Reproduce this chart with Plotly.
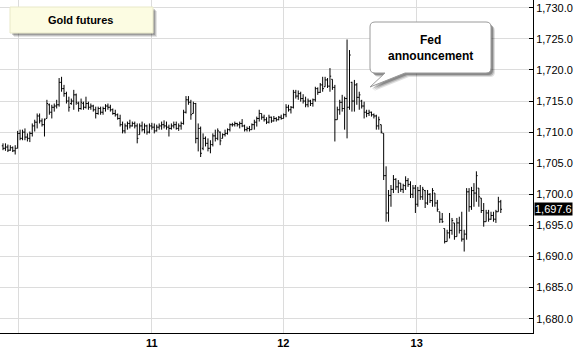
import plotly.graph_objects as go

# ---------------- data ----------------
opens = [
 1707.8,1707.4,1707.6,1707.1,1707.5,1707.0,1707.4,1709.8,1709.0,1710.0,
 1709.2,1709.0,1709.8,1711.0,1711.6,1712.6,1711.8,1711.2,1712.2,1714.4,
 1713.2,1714.0,1714.2,1714.4,1718.0,1717.0,1716.2,1715.0,1714.6,1715.0,
 1716.0,1714.6,1713.8,1714.6,1714.0,1714.6,1714.0,1714.2,1713.6,1713.0,
 1713.8,1713.2,1713.8,1714.2,1714.0,1713.6,1713.0,1712.8,1712.2,1711.2,
 1710.2,1711.0,1711.4,1711.0,1711.4,1711.0,1709.6,1711.0,1710.4,1711.0,
 1710.0,1711.0,1710.8,1710.2,1710.8,1711.0,1711.2,1711.0,1710.8,1710.6,
 1711.0,1711.2,1710.6,1711.0,1711.4,1713.2,1715.2,1714.8,1713.0,1714.6,
 1709.0,1710.6,1707.4,1709.0,1708.2,1707.4,1708.0,1709.4,1709.0,1710.0,
 1709.0,1709.6,1709.8,1710.4,1711.2,1711.2,1711.4,1711.2,1711.4,1711.0,
 1710.4,1710.6,1710.4,1711.2,1711.6,1712.2,1713.0,1712.4,1712.0,1711.6,
 1712.4,1711.8,1712.2,1712.0,1712.4,1712.2,1712.8,1714.0,1713.6,1714.0,
 1716.4,1715.8,1716.2,1715.4,1715.0,1714.4,1715.0,1714.6,1715.2,1717.0,
 1716.4,1717.6,1717.3,1718.4,1717.4,1718.5,1717.2,1712.0,1713.6,1714.8,
 1713.8,1715.4,1714.0,1718.0,1715.0,1717.6,1715.6,1715.0,1714.2,1713.2,
 1713.0,1713.2,1712.8,1712.6,1711.0,1711.2,1709.8,1703.0,1697.0,1699.8,
 1700.8,1702.4,1701.2,1701.8,1700.8,1701.4,1702.2,1701.6,1700.0,1701.0,
 1698.4,1700.6,1699.6,1700.6,1698.6,1700.0,1699.0,1700.2,1698.6,1697.2,
 1696.0,1694.5,1692.4,1693.8,1694.2,1695.4,1693.2,1695.4,1694.2,1692.8,
 1693.6,1700.4,1698.0,1700.6,1700.2,1701.0,1699.4,1697.4,1695.6,1697.0,
 1696.0,1696.6,1696.0,1697.2,1698.8]
highs = [
 1708.2,1708.2,1708.0,1707.9,1707.7,1707.9,1710.2,1710.4,1710.4,1710.6,
 1709.8,1710.1,1711.4,1712.0,1713.0,1713.0,1712.2,1712.2,1715.2,1714.6,
 1714.4,1714.6,1715.2,1718.7,1718.9,1717.6,1716.5,1715.7,1715.4,1716.8,
 1716.2,1714.9,1715.4,1714.9,1715.7,1714.9,1714.6,1714.4,1714.1,1714.1,
 1714.1,1714.1,1714.5,1714.6,1714.4,1713.8,1713.6,1713.0,1712.8,1711.7,
 1711.4,1711.7,1712.0,1711.7,1711.7,1711.4,1711.4,1711.7,1711.4,1711.2,
 1711.4,1711.5,1711.4,1711.2,1711.4,1711.7,1711.9,1711.7,1711.2,1711.4,
 1711.7,1711.7,1711.4,1711.7,1713.6,1715.8,1715.8,1715.2,1714.9,1714.7,
 1711.4,1710.9,1709.8,1709.3,1709.0,1708.7,1709.8,1710.4,1710.6,1710.1,
 1709.8,1710.4,1710.6,1711.4,1711.5,1711.7,1711.5,1711.7,1712.1,1711.2,
 1710.9,1711.0,1711.4,1712.0,1712.5,1713.6,1713.0,1712.8,1712.4,1712.8,
 1712.5,1712.6,1712.4,1712.6,1712.8,1713.0,1714.5,1714.4,1714.2,1716.8,
 1716.8,1716.7,1716.5,1716.1,1715.7,1715.4,1715.2,1715.4,1717.3,1717.2,
 1717.9,1718.9,1718.9,1718.7,1720.3,1718.5,1717.6,1714.1,1715.2,1716.0,
 1715.7,1724.9,1723.2,1718.1,1718.4,1717.9,1716.5,1715.2,1714.9,1713.6,
 1713.6,1713.3,1713.0,1712.8,1712.5,1711.2,1709.8,1704.5,1700.7,1701.5,
 1703.1,1702.6,1702.3,1701.8,1701.7,1702.9,1702.6,1702.1,1701.5,1701.5,
 1701.2,1701.5,1701.2,1700.7,1700.7,1700.2,1701.0,1700.2,1699.1,1697.2,
 1697.0,1694.5,1694.3,1697.0,1696.2,1695.4,1696.2,1696.4,1697.2,1694.3,
 1701.0,1701.0,1701.2,1701.8,1703.7,1701.0,1699.4,1698.6,1697.5,1697.5,
 1697.2,1697.2,1697.5,1699.6,1699.1]
lows = [
 1707.1,1707.0,1706.8,1707.0,1706.8,1706.4,1707.4,1708.7,1708.7,1708.7,
 1708.5,1708.4,1709.3,1710.1,1710.6,1711.4,1710.9,1709.3,1712.2,1712.8,
 1712.2,1713.3,1713.8,1714.1,1716.5,1715.7,1714.6,1713.3,1714.4,1713.6,
 1714.4,1713.3,1713.6,1713.6,1713.8,1713.6,1713.6,1713.3,1712.2,1712.8,
 1712.8,1712.8,1713.3,1713.6,1713.3,1712.8,1712.5,1712.0,1710.9,1709.8,
 1709.8,1710.4,1710.6,1710.9,1710.6,1708.2,1709.6,1710.1,1709.8,1709.6,
 1709.8,1710.4,1709.8,1710.1,1710.4,1710.4,1710.6,1710.4,1709.3,1710.4,
 1710.6,1710.4,1710.2,1710.4,1711.2,1713.0,1714.4,1712.0,1713.0,1708.2,
 1706.9,1706.0,1707.1,1707.7,1706.9,1706.6,1707.7,1708.5,1708.7,1707.9,
 1709.0,1709.3,1709.6,1710.1,1710.9,1710.9,1710.9,1710.6,1710.8,1710.1,
 1710.1,1710.1,1710.4,1710.4,1710.9,1711.7,1712.0,1711.7,1711.3,1711.4,
 1711.5,1711.7,1711.7,1711.9,1712.0,1712.2,1712.4,1713.3,1713.0,1713.8,
 1715.4,1715.2,1714.9,1714.6,1714.0,1714.0,1714.2,1714.1,1714.9,1716.0,
 1716.3,1716.5,1717.3,1717.1,1716.5,1716.8,1708.5,1712.0,1712.8,1713.3,
 1710.4,1709.0,1713.6,1713.3,1713.3,1714.4,1713.6,1713.8,1712.2,1712.4,
 1712.6,1712.5,1712.2,1710.4,1710.4,1709.8,1702.3,1695.6,1695.6,1698.0,
 1700.2,1700.7,1700.2,1700.4,1700.2,1700.7,1701.2,1699.4,1699.4,1697.0,
 1698.0,1699.1,1699.1,1697.8,1698.3,1698.6,1698.0,1698.0,1697.2,1695.4,
 1695.4,1692.1,1692.4,1692.9,1693.5,1692.7,1693.2,1693.7,1692.4,1690.8,
 1692.7,1697.2,1697.5,1698.0,1698.8,1698.0,1697.0,1694.8,1695.6,1695.6,
 1695.9,1695.6,1695.4,1697.2,1697.0]
closes = [
 1707.4,1707.6,1707.1,1707.5,1707.0,1707.4,1709.8,1709.0,1710.0,1709.2,
 1709.0,1709.8,1711.0,1711.6,1712.6,1711.8,1711.2,1712.0,1714.6,1713.2,
 1714.0,1714.2,1714.4,1718.0,1717.0,1716.2,1715.0,1714.0,1715.0,1716.0,
 1714.8,1713.8,1714.8,1714.0,1714.6,1714.0,1714.2,1713.6,1713.0,1713.8,
 1713.2,1713.8,1714.2,1714.0,1713.6,1713.0,1712.8,1712.2,1711.2,1710.2,
 1711.0,1711.4,1711.0,1711.4,1711.0,1709.0,1711.0,1710.4,1711.0,1710.0,
 1711.0,1710.8,1710.2,1710.8,1711.0,1711.2,1711.0,1710.8,1710.6,1711.0,
 1711.2,1710.6,1711.0,1711.4,1713.2,1715.2,1714.8,1712.8,1714.6,1709.0,
 1710.6,1706.6,1709.0,1708.2,1707.4,1708.0,1709.4,1709.0,1710.2,1708.6,
 1709.6,1709.8,1710.4,1711.2,1711.2,1711.4,1711.2,1711.4,1711.0,1710.4,
 1710.6,1710.4,1711.2,1711.6,1712.2,1713.0,1712.4,1712.0,1711.6,1712.4,
 1711.8,1712.2,1712.0,1712.4,1712.2,1712.8,1714.0,1713.6,1714.0,1716.4,
 1715.8,1716.2,1715.4,1715.0,1714.4,1715.0,1714.6,1715.2,1717.0,1716.4,
 1717.6,1717.0,1718.4,1717.4,1719.0,1717.2,1712.0,1713.6,1714.8,1713.8,
 1715.4,1714.0,1722.4,1715.0,1717.6,1715.6,1716.0,1714.2,1713.2,1713.0,
 1713.2,1712.8,1712.6,1711.0,1712.0,1710.0,1703.0,1697.0,1699.8,1700.8,
 1702.4,1701.2,1701.8,1700.8,1701.4,1702.2,1701.6,1700.0,1701.0,1698.4,
 1700.6,1699.6,1700.8,1698.6,1700.0,1699.0,1700.6,1698.6,1697.6,1696.0,
 1695.6,1692.4,1693.8,1694.2,1695.8,1693.2,1695.4,1694.2,1692.8,1693.6,
 1700.4,1698.0,1700.6,1700.2,1703.0,1699.6,1697.4,1695.6,1697.0,1696.0,
 1696.6,1696.0,1697.2,1698.8,1697.6]

day_labels = ["", "11", "12", "13"]
day_positions = [6.27, 60.94, 114.88, 169.55]   # bar-index position of each day boundary
price_ticks = [1680, 1685, 1690, 1695, 1700, 1705, 1710, 1715, 1720, 1725, 1730]
last_price = closes[-1]
title_text = "Gold futures"
callout_text = "Fed<br>announcement"

bar_index = list(range(len(closes)))

# ---------------- figure ----------------
W, H = 575, 351
ML, MR, MT, MB = 0, 42, 0, 18
PW, PH = W - ML - MR, H - MT - MB

def px(x):   # plot-area pixel -> paper x
    return x / PW

def py(y):   # plot-area pixel -> paper y
    return 1 - y / PH

fig = go.Figure(go.Ohlc(
    x=bar_index, open=opens, high=highs, low=lows, close=closes,
    increasing=dict(line=dict(color="black", width=1)),
    decreasing=dict(line=dict(color="black", width=1)),
    tickwidth=0.5, hoverinfo="skip", showlegend=False,
))

font = "Liberation Sans, Arial, sans-serif"

def rounded_rect(x0, y0, x1, y1, r, tail=None):
    # path in paper coords; y in pixels downward, converted
    pts = []
    s = f"M {px(x0+r)},{py(y0)} L {px(x1-r)},{py(y0)} Q {px(x1)},{py(y0)} {px(x1)},{py(y0+r)} "
    s += f"L {px(x1)},{py(y1-r)} Q {px(x1)},{py(y1)} {px(x1-r)},{py(y1)} "
    if tail:
        (ta, tb, tx, ty) = tail
        s += f"L {px(tb)},{py(y1)} L {px(tx)},{py(ty)} L {px(ta)},{py(y1)} "
    s += f"L {px(x0+r)},{py(y1)} Q {px(x0)},{py(y1)} {px(x0)},{py(y1-r)} "
    s += f"L {px(x0)},{py(y0+r)} Q {px(x0)},{py(y0)} {px(x0+r)},{py(y0)} Z"
    return s

shapes = []
# Gold futures box: shadow + box
for off, col in [(4, "rgba(0,0,0,0.10)"), (3, "rgba(0,0,0,0.15)"), (2, "rgba(0,0,0,0.2)")]:
    shapes.append(dict(type="rect", xref="paper", yref="paper",
                       x0=px(10 + off), x1=px(153 + off), y0=py(7 + off), y1=py(33 + off),
                       line=dict(width=0), fillcolor=col, layer="above"))
shapes.append(dict(type="rect", xref="paper", yref="paper",
                   x0=px(10), x1=px(153), y0=py(7), y1=py(33),
                   line=dict(width=1, color="#e8e8c8"), fillcolor="#fcfce2", layer="above"))

# Fed callout: shadow + box with tail
for off, col in [(4, "rgba(0,0,0,0.12)"), (3, "rgba(0,0,0,0.18)"), (2, "rgba(0,0,0,0.25)")]:
    shapes.append(dict(type="path", xref="paper", yref="paper",
                       path=rounded_rect(370 + off, 22 + off, 491 + off, 73 + off, 5,
                                         tail=(385 + off, 405 + off, 370 + off, 87 + off)),
                       line=dict(width=0), fillcolor=col, layer="above"))
shapes.append(dict(type="path", xref="paper", yref="paper",
                   path=rounded_rect(370, 22, 491, 73, 5, tail=(385, 405, 370, 87)),
                   line=dict(width=1, color="#9a9a9a"), fillcolor="#ffffff", layer="above"))

annotations = [
    dict(xref="paper", yref="paper", x=px(80), y=py(20), text=f"<b>{title_text}</b>",
         showarrow=False, font=dict(family=font, size=11, color="black"),
         xanchor="center", yanchor="middle"),
    dict(xref="paper", yref="paper", x=px(430), y=py(48), text=f"<b>{callout_text}</b>",
         showarrow=False, font=dict(family=font, size=12, color="black"),
         xanchor="center", yanchor="middle", align="center"),
    dict(xref="paper", yref="y", x=1, y=last_price, xshift=1,
         text=f"{last_price:,.1f}", showarrow=False,
         font=dict(family=font, size=11, color="white"),
         bgcolor="black", borderpad=0, xanchor="left", yanchor="middle"),
]

fig.update_layout(
    width=W, height=H,
    margin=dict(l=ML, r=MR, t=MT, b=MB, pad=0),
    paper_bgcolor="white", plot_bgcolor="white",
    shapes=shapes, annotations=annotations,
    font=dict(family=font, size=11, color="black"),
    xaxis=dict(
        range=[-1.23, 217.2], rangeslider=dict(visible=False),
        tickmode="array", tickvals=day_positions, ticktext=[f"<b>{t}</b>" if t else "" for t in day_labels],
        showgrid=True, gridcolor="#dcdcdc", gridwidth=1, zeroline=False,
        showline=True, linecolor="black", linewidth=1, ticks="",
        tickfont=dict(family=font, size=11, color="black"), fixedrange=True,
    ),
    yaxis=dict(
        side="right", range=[1677.7, 1731.25],
        tickmode="array", tickvals=price_ticks, tickformat=",.1f",
        showgrid=True, gridcolor="#dcdcdc", gridwidth=1, zeroline=False,
        showline=True, linecolor="black", linewidth=1,
        ticks="inside", ticklen=4, tickcolor="black",
        tickfont=dict(family=font, size=11, color="black"), fixedrange=True,
    ),
)

fig.write_html("out.html", config={"displayModeBar": False})
